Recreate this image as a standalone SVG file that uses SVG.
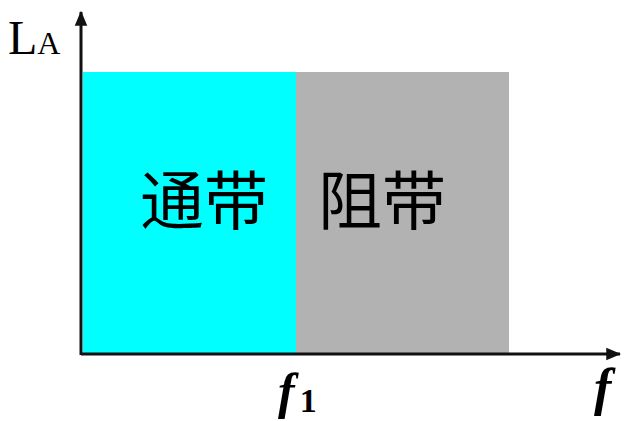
<svg xmlns="http://www.w3.org/2000/svg" width="624" height="421" viewBox="0 0 624 421">
<style>
.axis{stroke:#111;stroke-width:3;fill:none}
.band{font-family:"Liberation Serif","Noto Sans CJK SC",serif;font-size:64px;fill:#000;text-anchor:middle}
.lbl{font-family:"Liberation Serif",serif;fill:#000}
</style>
<defs>
<marker id="arr" viewBox="0 0 12 12" refX="11" refY="6" markerWidth="5" markerHeight="5" orient="auto" markerUnits="strokeWidth">
<path d="M0,1 L12,6 L0,11 z" fill="#111"/>
</marker>
</defs>
<rect width="624" height="421" fill="#fff"/>
<g id="passband">
<rect x="83" y="72" width="213" height="282" fill="#00ffff"/>
<text class="band" x="204" y="224">通带</text>
</g>
<g id="stopband">
<rect x="296" y="72" width="213" height="282" fill="#b2b2b2"/>
<text class="band" x="382" y="224">阻带</text>
</g>
<g id="connectors">
<line class="axis" x1="81" y1="355" x2="81" y2="12" marker-end="url(#arr)"/>
<line class="axis" x1="81" y1="354" x2="620" y2="354" marker-end="url(#arr)"/>
</g>
<g id="labels">
<text class="lbl" x="8" y="54" font-size="48">L<tspan font-size="32">A</tspan></text>
<text class="lbl" x="278" y="408" font-size="50" font-weight="bold" font-style="italic">f<tspan font-size="34" font-weight="bold" dx="5" dy="4" font-style="normal">1</tspan></text>
<text class="lbl" x="594" y="405" font-size="52" font-weight="bold" font-style="italic">f</text>
</g>
</svg>
